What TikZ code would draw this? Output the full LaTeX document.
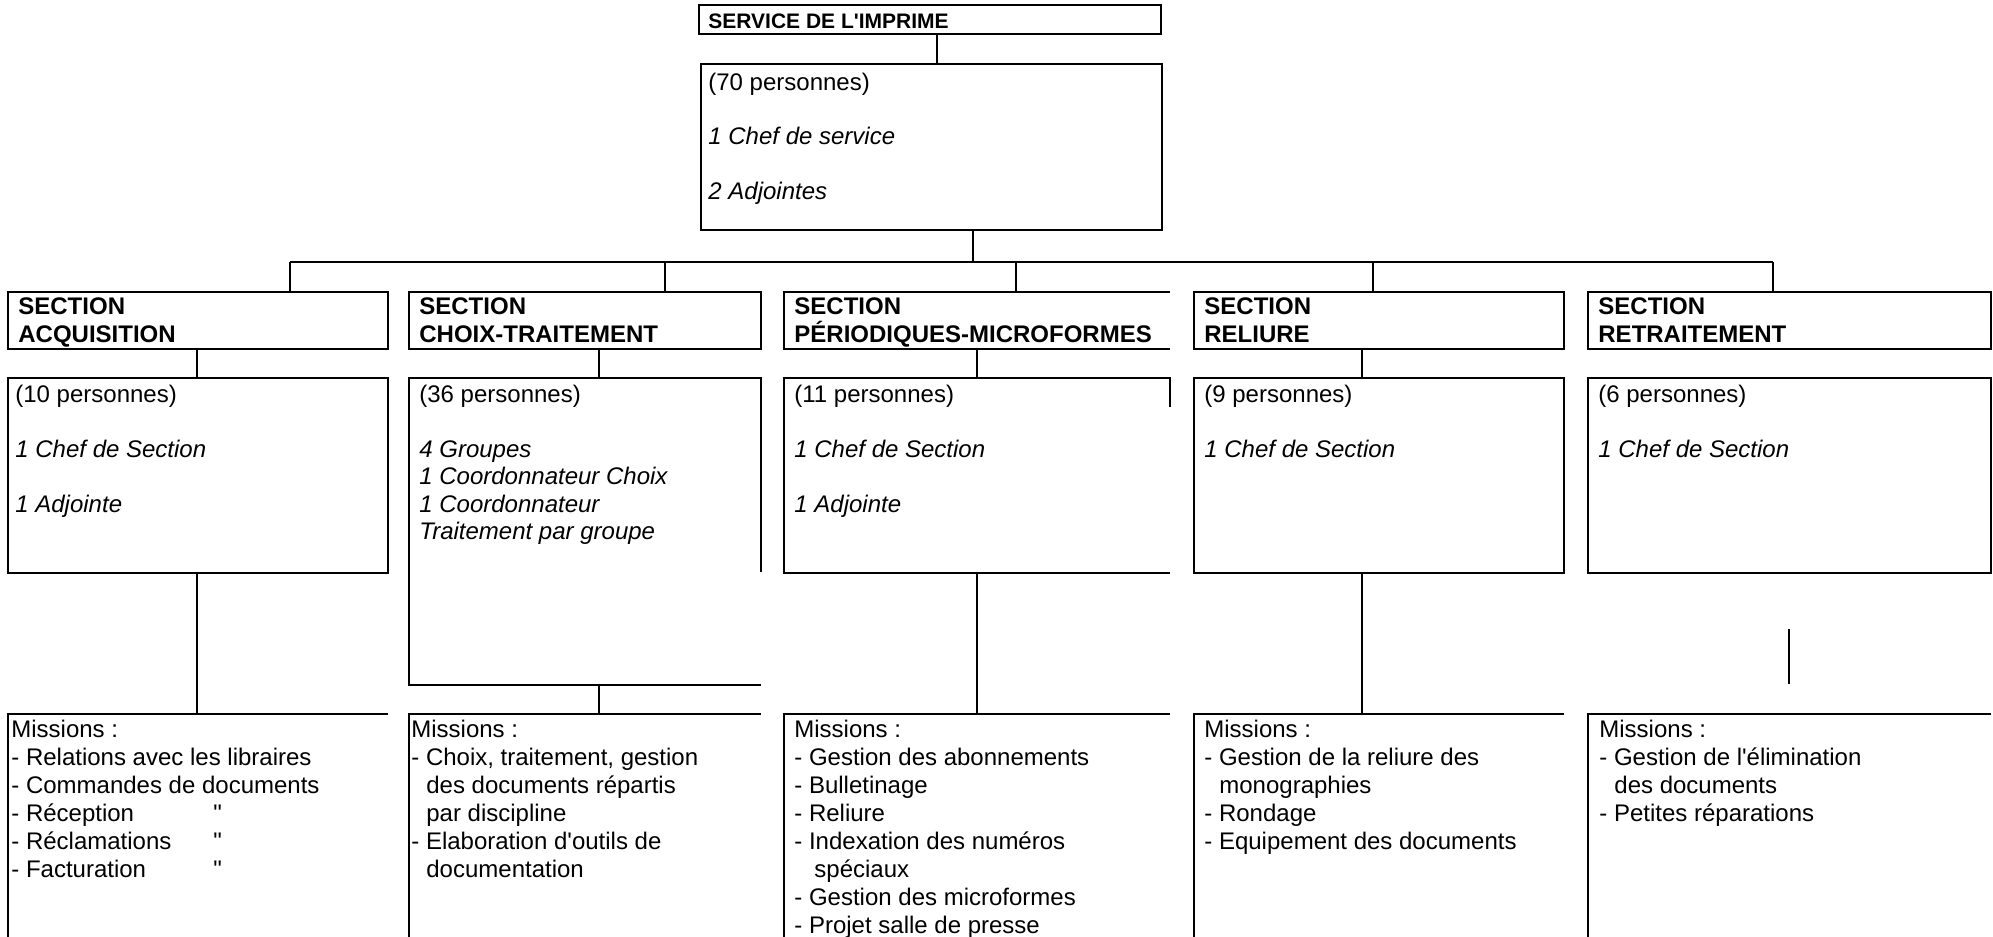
\documentclass[tikz,border=0pt]{standalone}
\usepackage{fontspec}
\setmainfont{Liberation Sans}
\newfontfamily\arial{Liberation Sans}
\newcommand\hd{\rule{0pt}{11pt}}
\newcommand\ind{\hspace*{7.5pt}}
\newcommand\idem[1]{\makebox[101pt][l]{#1}"}

\begin{document}
\arial
\begin{tikzpicture}[x=0.5pt,y=-0.5pt,
    boite/.style 2 args={minimum width=#1,minimum height=#2,anchor=north west,inner sep=0pt,outer sep=0pt},
    trait/.style={line width=1pt},
    cadre/.style={draw,line width=1pt},
    texte/.style={anchor=north west,align=left,inner sep=0pt,font=\arial\fontsize{12}{13.75}\selectfont},
    mission/.style={texte,font=\arial\fontsize{12}{14}\selectfont},
    titre/.style={texte,font=\arial\bfseries\fontsize{12}{13.9}\selectfont}]
    \useasboundingbox (0,0) rectangle (1993,937);

    % service
    \node[boite={231pt}{14.5pt},cadre] (serv) at (699,5) {};
    \node[titre,font=\arial\bfseries\fontsize{10.5}{12}\selectfont] (servt) at ([shift={(4.5pt,-0.5pt)}]serv.north west) {\hd SERVICE DE L'IMPRIME};
    \node[boite={230.5pt}{83pt},cadre] (serv70) at (701,64) {};
    \node[texte] (serv70t) at ([shift={(3.5pt,-2pt)}]serv70.north west) {\hd(70 personnes)\\[13.5pt]\textit{1 Chef de service}\\[13.5pt]\textit{2 Adjointes}};
    \draw[trait] ([xshift=119pt]serv.south west) -- ([xshift=118pt]serv70.north west);

    % sections
    \node[boite={190pt}{28.5pt},cadre] (acqS) at (8,292) {};
    \node[boite={176pt}{28.5pt},cadre] (choS) at (409,292) {};
    \node[boite={193pt}{28.5pt}] (perS) at (784,292) {};
    \node[boite={185pt}{28.5pt},cadre] (relS) at (1194,292) {};
    \node[boite={201.5pt}{28.5pt},cadre] (retS) at (1588,292) {};
    \draw[trait] (perS.north east) -- (perS.north west) -- (perS.south west) -- (perS.south east);
    \node[titre] (acqSt) at ([xshift=5pt]acqS.north west) {\hd SECTION\\ACQUISITION};
    \node[titre] (choSt) at ([xshift=5pt]choS.north west) {\hd SECTION\\CHOIX-TRAITEMENT};
    \node[titre] (perSt) at ([xshift=5pt]perS.north west) {\hd SECTION\\PÉRIODIQUES-MICROFORMES};
    \node[titre] (relSt) at ([xshift=5pt]relS.north west) {\hd SECTION\\RELIURE};
    \node[titre] (retSt) at ([xshift=5pt]retS.north west) {\hd SECTION\\RETRAITEMENT};

    % bus
    \coordinate (bus) at ([xshift=136pt,yshift=-16pt]serv70.south west);
    \coordinate (hA) at ([xshift=141pt]acqS.north west);
    \coordinate (hC) at ([xshift=128pt]choS.north west);
    \coordinate (hP) at ([xshift=116pt]perS.north west);
    \coordinate (hR) at ([xshift=89.5pt]relS.north west);
    \coordinate (hT) at ([xshift=92.5pt]retS.north west);
    \draw[trait] ([xshift=136pt]serv70.south west) -- (bus);
    \draw[trait] (bus -| hA) -- (bus -| hT);
    \foreach \h in {hA,hC,hP,hR,hT}
        \draw[trait] (\h) -- (\h |- bus);

    % effectifs
    \node[boite={190pt}{97.5pt},cadre] (acqP) at (8,378) {};
    \node[boite={176pt}{153.5pt}] (choP) at (409,378) {};
    \node[boite={193pt}{97.5pt}] (perP) at (784,378) {};
    \node[boite={185pt}{97.5pt},cadre] (relP) at (1194,378) {};
    \node[boite={201.5pt}{97.5pt},cadre] (retP) at (1588,378) {};
    \draw[trait] ([yshift=-97pt]choP.north east) -- (choP.north east) -- (choP.north west) -- (choP.south west) -- (choP.south east);
    \draw[trait] ([yshift=-14.5pt]perP.north east) -- (perP.north east) -- (perP.north west) -- (perP.south west) -- (perP.south east);
    \node[texte] (acqPt) at ([shift={(3.5pt,-1pt)}]acqP.north west) {\hd(10 personnes)\\[13.75pt]\textit{1 Chef de Section}\\[13.75pt]\textit{1 Adjointe}};
    \node[texte] (choPt) at ([shift={(5pt,-1pt)}]choP.north west) {\hd(36 personnes)\\[13.75pt]\textit{4 Groupes}\\\textit{1 Coordonnateur Choix}\\\textit{1 Coordonnateur}\\\textit{Traitement par groupe}};
    \node[texte] (perPt) at ([shift={(5pt,-1pt)}]perP.north west) {\hd(11 personnes)\\[13.75pt]\textit{1 Chef de Section}\\[13.75pt]\textit{1 Adjointe}};
    \node[texte] (relPt) at ([shift={(5pt,-1pt)}]relP.north west) {\hd(9 personnes)\\[13.75pt]\textit{1 Chef de Section}};
    \node[texte] (retPt) at ([shift={(5pt,-1pt)}]retP.north west) {\hd(6 personnes)\\[13.75pt]\textit{1 Chef de Section}};
    \draw[trait] ([xshift=94.5pt]acqS.south west) -- ([xshift=94.5pt]acqP.north west);
    \draw[trait] ([xshift=95pt]choS.south west) -- ([xshift=95pt]choP.north west);
    \draw[trait] (perS.south) -- (perP.north);
    \draw[trait] ([xshift=84pt]relS.south west) -- ([xshift=84pt]relP.north west);

    % missions
    \node[boite={190pt}{112pt}] (acqM) at (8,714) {};
    \node[boite={176pt}{112pt}] (choM) at (409,714) {};
    \node[boite={193pt}{112pt}] (perM) at (784,714) {};
    \node[boite={185pt}{112pt}] (relM) at (1194,714) {};
    \node[boite={201.5pt}{112pt}] (retM) at (1588,714) {};
    \foreach \m in {acqM,choM,perM,relM,retM}
        \draw[trait] (\m.south west) -- (\m.north west) -- (\m.north east);
    \node[mission] (acqMt) at ([shift={(1.5pt,-0.5pt)}]acqM.north west) {\hd Missions :\\- Relations avec les libraires\\- Commandes de documents\\\idem{- Réception}\\\idem{- Réclamations}\\\idem{- Facturation}};
    \node[mission] (choMt) at ([shift={(1pt,-0.5pt)}]choM.north west) {\hd Missions :\\- Choix, traitement, gestion\\\ind des documents répartis\\\ind par discipline\\- Elaboration d'outils de\\\ind documentation};
    \node[mission] (perMt) at ([shift={(5pt,-0.5pt)}]perM.north west) {\hd Missions :\\- Gestion des abonnements\\- Bulletinage\\- Reliure\\- Indexation des numéros\\\hspace*{10pt}spéciaux\\- Gestion des microformes\\- Projet salle de presse};
    \node[mission] (relMt) at ([shift={(5pt,-0.5pt)}]relM.north west) {\hd Missions :\\- Gestion de la reliure des\\\ind monographies\\- Rondage\\- Equipement des documents};
    \node[mission] (retMt) at ([shift={(5.5pt,-0.5pt)}]retM.north west) {\hd Missions :\\- Gestion de l'élimination\\\ind des documents\\- Petites réparations};
    \draw[trait] ([xshift=94.5pt]acqP.south west) -- ([xshift=94.5pt]acqM.north west);
    \draw[trait] ([xshift=95pt]choP.south west) -- ([xshift=95pt]choM.north west);
    \draw[trait] (perP.south) -- (perM.north);
    \draw[trait] ([xshift=84pt]relP.south west) -- ([xshift=84pt]relM.north west);
    \draw[trait] (1789,629) -- (1789,684);
\end{tikzpicture}
\end{document}
